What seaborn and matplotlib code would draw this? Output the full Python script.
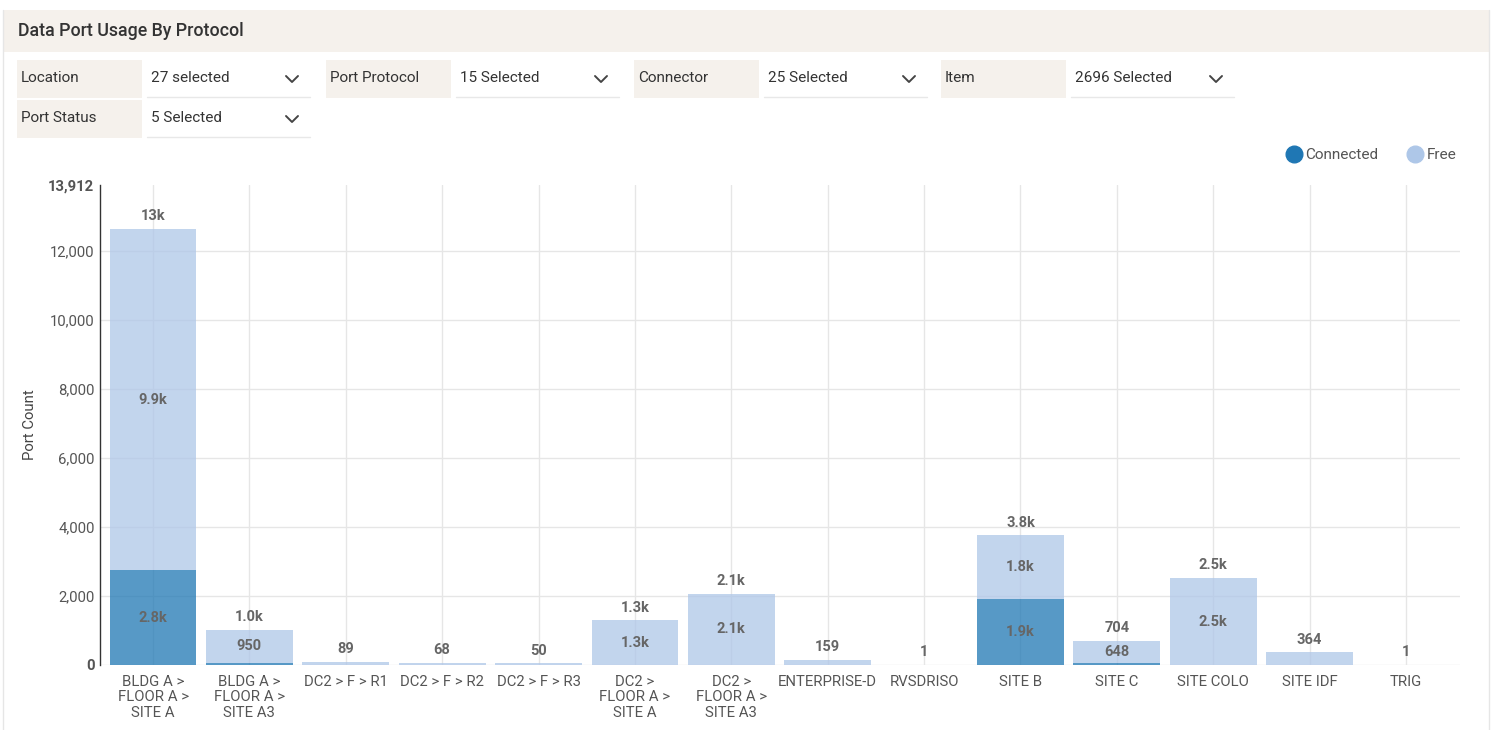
import seaborn as sns
import pandas as pd
from matplotlib import pyplot as plt
from matplotlib.patches import Rectangle
from matplotlib.lines import Line2D

locations = ["BLDG A >\nFLOOR A >\nSITE A", "BLDG A >\nFLOOR A >\nSITE A3",
             "DC2 > F > R1", "DC2 > F > R2", "DC2 > F > R3",
             "DC2 >\nFLOOR A >\nSITE A", "DC2 >\nFLOOR A >\nSITE A3",
             "ENTERPRISE-D", "RVSDRISO", "SITE B", "SITE C", "SITE COLO",
             "SITE IDF", "TRIG"]
connected = [2750, 64, 0, 0, 0, 0, 0, 0, 0, 1910, 56, 0, 6, 0]
free = [9890, 950, 89, 68, 50, 1300, 2070, 159, 1, 1845, 648, 2520, 358, 1]
y_max = 13912
y_ticks = [0, 2000, 4000, 6000, 8000, 10000, 12000, 13912]

filters = [("Location", "27 selected"), ("Port Protocol", "15 Selected"),
           ("Connector", "25 Selected"), ("Item", "2696 Selected"),
           ("Port Status", "5 Selected")]

W, H = 1497, 730
sns.set_style("white")
plt.rcParams['font.family'] = ['Roboto', 'DejaVu Sans']

df = pd.DataFrame({"location": locations, "Connected": connected, "Free": free})
df["total"] = df["Connected"] + df["Free"]

fig = plt.figure(figsize=(W / 100, H / 100), dpi=100)


def fx(px):
    return px / W


def fy(py):
    return 1 - py / H


# panel frame + header
fig.add_artist(Line2D([fx(3), fx(3)], [fy(10), 0], color="#e6e6e6", lw=1))
fig.add_artist(Line2D([fx(1489), fx(1489)], [fy(10), 0], color="#e6e6e6", lw=1))
fig.add_artist(Rectangle((fx(3), fy(52)), fx(1489) - fx(3), 42 / H,
                         transform=fig.transFigure, color="#f5f1ec", lw=0))
fig.text(fx(18), fy(31), "Data Port Usage By Protocol", fontsize=12.8,
         weight="medium", color="#333333", va="center", ha="left")

# filter controls
slots = [(17, 60), (326, 60), (634, 60), (941, 60), (17, 100)]
for (label, value), (x0, y0) in zip(filters, slots):
    fig.add_artist(Rectangle((fx(x0), fy(y0 + 38)), 125 / W, 38 / H,
                             transform=fig.transFigure, color="#f5f1ec", lw=0))
    fig.text(fx(x0 + 4), fy(y0 + 18), label, fontsize=11, color="#333333", va="center")
    fig.text(fx(x0 + 134), fy(y0 + 18), value, fontsize=11, color="#333333", va="center")
    fig.add_artist(Line2D([fx(x0 + 130), fx(x0 + 293)], [fy(y0 + 37)] * 2,
                          color="#e8e8e8", lw=1))
    cx, cy = x0 + 275, y0 + 19
    fig.add_artist(Line2D([fx(cx - 6), fx(cx), fx(cx + 6)],
                          [fy(cy - 3), fy(cy + 3), fy(cy - 3)],
                          color="#444444", lw=1.4))

ax = fig.add_axes([fx(100), fy(665), fx(1460) - fx(100), 480 / H])

sns.barplot(data=df, x="location", y="Connected", color="#1f77b4", alpha=0.75,
            saturation=1, width=0.9, errorbar=None, linewidth=0, ax=ax, zorder=2)
sns.barplot(data=df, x="location", y="Free", color="#aec7e8", alpha=0.75,
            saturation=1, width=0.9, errorbar=None, linewidth=0, ax=ax, zorder=2,
            bottom=df["Connected"].values)


def fmt(v):
    if v >= 10000:
        return f"{v / 1000:.0f}k"
    if v >= 1000:
        return f"{v / 1000:.1f}k"
    return str(v)


lab = dict(fontsize=10.5, weight="bold", color="#666666", ha="center")
for i, row in df.iterrows():
    ax.annotate(fmt(row["total"]), (i, row["total"]), xytext=(0, 4),
                textcoords="offset points", va="bottom", **lab)
    if row["Connected"] >= 400:
        ax.text(i, row["Connected"] / 2, fmt(row["Connected"]), va="center", **lab)
    if row["Free"] >= 400:
        ax.text(i, row["Connected"] + row["Free"] / 2, fmt(row["Free"]), va="center", **lab)

ax.set_xlim(-0.55, len(locations) - 0.44)
ax.set_ylim(0, y_max)
ax.set_yticks(y_ticks)
ax.set_yticklabels([f"{t:,}" for t in y_ticks])
for t, tl in zip(y_ticks, ax.get_yticklabels()):
    if t in (0, y_max):
        tl.set_fontweight("bold")
        tl.set_color("#333333")
ax.tick_params(axis="y", length=0, pad=4, labelsize=10.7, labelcolor="#555555")
ax.tick_params(axis="x", length=0, pad=7, labelsize=10.7, labelcolor="#555555")
for tl in ax.get_xticklabels():
    tl.set_linespacing(1.15)

ax.set_axisbelow(True)
ax.grid(True, color="#e6e6e6", lw=1)
ax.get_ygridlines()[-1].set_visible(False)
ax.set_xlabel("")
ax.set_ylabel("Port Count", fontsize=10.7, color="#444444", labelpad=8)
for s in ["top", "right", "bottom"]:
    ax.spines[s].set_visible(False)
ax.spines["left"].set_color("#333333")
ax.spines["left"].set_linewidth(1)

handles = [Line2D([], [], marker="o", ls="", markersize=12, color="#1f77b4"),
           Line2D([], [], marker="o", ls="", markersize=12, color="#aec7e8")]
fig.legend(handles, ["Connected", "Free"], loc="center right",
           bbox_to_anchor=(fx(1470), fy(155)), ncol=2, frameon=False,
           handletextpad=0.25, columnspacing=1.9, fontsize=11,
           labelcolor="#555555", handlelength=1.0)

fig.savefig("out.png", dpi=100, facecolor="white")
